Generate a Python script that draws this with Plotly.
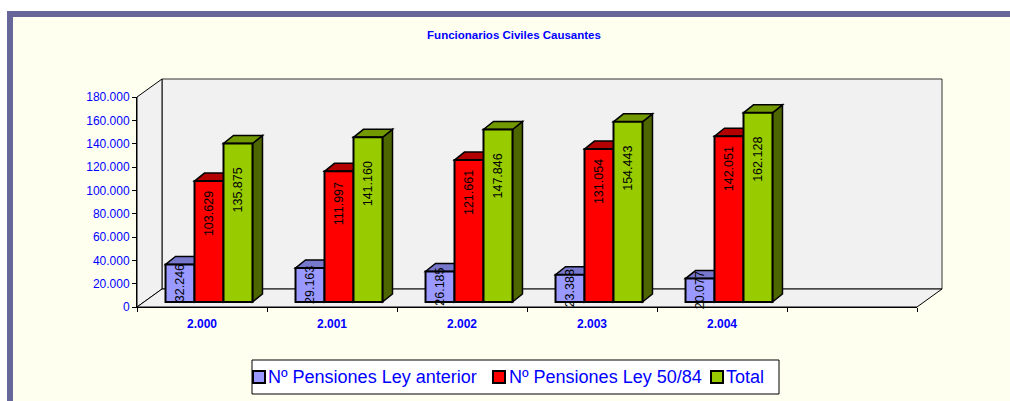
import plotly.graph_objects as go

# ---------------- data ----------------
years = [2000, 2001, 2002, 2003, 2004]
cat_labels = ["2.000", "2.001", "2.002", "2.003", "2.004"]
series_names = ["Nº Pensiones Ley anterior", "Nº Pensiones Ley 50/84", "Total"]
ley_anterior = [32246, 29163, 26185, 23388, 20077]
ley_50_84 = [103629, 111997, 121661, 131054, 142051]
total = [135875, 141160, 147846, 154443, 162128]
y_ticks = list(range(0, 180001, 20000))
title_text = "Funcionarios Civiles Causantes"

series_values = [ley_anterior, ley_50_84, total]

# ---------------- styling / geometry ----------------
W, H = 1010, 401
L, R, T, B = 137, 93, 97, 94
PW, PH = W - L - R, H - T - B
N_SLOTS = 6
YMAX = 180000
ux = N_SLOTS / PW          # x data units per pixel
uy = YMAX / PH             # y data units per pixel
BX, BY = 7, 5              # bar plane offset (px) -> 3D depth of the bars
DX, DY = 10, 8             # bar depth (px)
WX, WY = 25, 18            # wall depth (px)
BARGAP = 0.331

fills = ["#9999FF", "#FF0000", "#99CC00"]
tops = ["#7777CC", "#B30000", "#739900"]
sides = ["#6666AA", "#990000", "#4D6600"]
BLUE = "#0000FF"
ARIAL = "Liberation Sans, Arial, sans-serif"


def pxx(px):
    return (px - L) / PW


def pxy(py):
    return (H - B - py) / PH


xs = list(range(len(years)))
groupw = 1 - BARGAP
bw = groupw / len(series_values)
base = BY * uy            # bars stand on the floor, BY px behind the front edge
shift_x = BX * ux

fig = go.Figure()
for j, (name, vals, col) in enumerate(zip(series_names, series_values, fills)):
    fig.add_trace(go.Bar(
        x=xs, y=vals, base=base, name=name,
        width=bw, offset=-groupw / 2 + j * bw + shift_x,
        marker=dict(color=col, line=dict(color="black", width=2)),
        showlegend=False, hoverinfo="skip",
    ))

shapes = []
# outer frame
shapes.append(dict(type="rect", xref="paper", yref="paper",
                   x0=pxx(10), x1=pxx(1040), y0=pxy(430), y1=pxy(14),
                   fillcolor="#FFFFF0", line=dict(color="#666699", width=6),
                   layer="below"))
wx, wy = WX / PW, WY / PH
wall_fill = "#F1F1F1"
# back wall
shapes.append(dict(type="rect", xref="paper", yref="paper",
                   x0=wx, x1=1 + wx, y0=wy, y1=1 + wy,
                   fillcolor=wall_fill, line=dict(color="#333333", width=1),
                   layer="below"))
# left wall
shapes.append(dict(type="path", xref="paper", yref="paper",
                   path=f"M0,0 L{wx},{wy} L{wx},{1 + wy} L0,1 Z",
                   fillcolor=wall_fill, line=dict(color="black", width=1),
                   layer="below"))
# floor
shapes.append(dict(type="path", xref="paper", yref="paper",
                   path=f"M0,0 L1,0 L{1 + wx},{wy} L{wx},{wy} Z",
                   fillcolor=wall_fill, line=dict(color="black", width=1),
                   layer="below"))

dxu, dyu = DX * ux, DY * uy
annotations = []
label_shift = [None, -33, -46]
for j, vals in enumerate(series_values):
    for i, v in enumerate(vals):
        xl = xs[i] - groupw / 2 + j * bw + shift_x
        xr = xl + bw
        b0, b1 = base, base + v
        shapes.append(dict(type="path", xref="x", yref="y", layer="below",
                           path=f"M{xr},{b0} L{xr + dxu},{b0 + dyu} L{xr + dxu},{b1 + dyu} L{xr},{b1} Z",
                           fillcolor=sides[j], line=dict(color="black", width=1.5)))
        shapes.append(dict(type="path", xref="x", yref="y", layer="below",
                           path=f"M{xl},{b1} L{xr},{b1} L{xr + dxu},{b1 + dyu} L{xl + dxu},{b1 + dyu} Z",
                           fillcolor=tops[j], line=dict(color="black", width=1.5)))
        txt = f"{v:,}".replace(",", ".")
        if label_shift[j] is None:
            ay, ys = base + v / 2, 0
        else:
            ay, ys = b1, label_shift[j]
        annotations.append(dict(x=xl + bw / 2, y=ay, xref="x", yref="y",
                                yshift=ys, text=txt, textangle=-90,
                                showarrow=False, xanchor="center", yanchor="middle",
                                font=dict(family=ARIAL, size=12.5, color="black")))

# legend box (drawn by hand to match the compact original layout)
shapes.append(dict(type="rect", xref="paper", yref="paper",
                   x0=pxx(252), x1=pxx(779), y0=pxy(394), y1=pxy(360),
                   fillcolor="white", line=dict(color="black", width=1),
                   layer="above"))
leg_sq = [259, 499, 717]
leg_tx = [266, 507, 724]
for k, name in enumerate(series_names):
    shapes.append(dict(type="rect", xref="paper", yref="paper",
                       x0=pxx(leg_sq[k] - 6), x1=pxx(leg_sq[k] + 6),
                       y0=pxy(383), y1=pxy(371),
                       fillcolor=fills[k], line=dict(color="black", width=2),
                       layer="above"))
    annotations.append(dict(x=pxx(leg_tx[k]), y=pxy(377), xref="paper", yref="paper",
                            text=name, showarrow=False, xanchor="left", yanchor="middle",
                            font=dict(family=ARIAL, size=18, color=BLUE)))

fig.update_layout(
    width=W, height=H,
    margin=dict(l=L, r=R, t=T, b=B, pad=0),
    paper_bgcolor="white",
    plot_bgcolor="rgba(0,0,0,0)",
    separators=",.",
    barmode="overlay",
    showlegend=False,
    title=dict(text=title_text, x=514 / W, xanchor="center", y=1 - 35 / H, yanchor="middle",
               xref="container", yref="container",
               font=dict(family=ARIAL, size=11.5, color=BLUE, weight="bold")),
    xaxis=dict(range=[-0.5, N_SLOTS - 0.5], tickmode="array", tickvals=xs, ticktext=cat_labels,
               ticks="outside", ticklen=6, tickcolor="rgba(0,0,0,0)",
               tickfont=dict(family=ARIAL, size=12, color=BLUE, weight="bold"),
               showline=True, linecolor="black", linewidth=1, showgrid=False, zeroline=False,
               minor=dict(tickmode="linear", tick0=-0.5, dtick=1,
                          ticks="outside", ticklen=4, tickcolor="black", showgrid=False)),
    yaxis=dict(range=[0, YMAX], tickmode="array", tickvals=y_ticks, tickformat=",d",
               ticks="outside", ticklen=4, tickcolor="black",
               tickfont=dict(family=ARIAL, size=12, color=BLUE),
               showline=True, linecolor="black", linewidth=1, showgrid=False, zeroline=False),
    shapes=shapes,
    annotations=annotations,
)

fig.write_html("out.html", config={"displayModeBar": False},
               post_script="document.body.style.margin='0';")
